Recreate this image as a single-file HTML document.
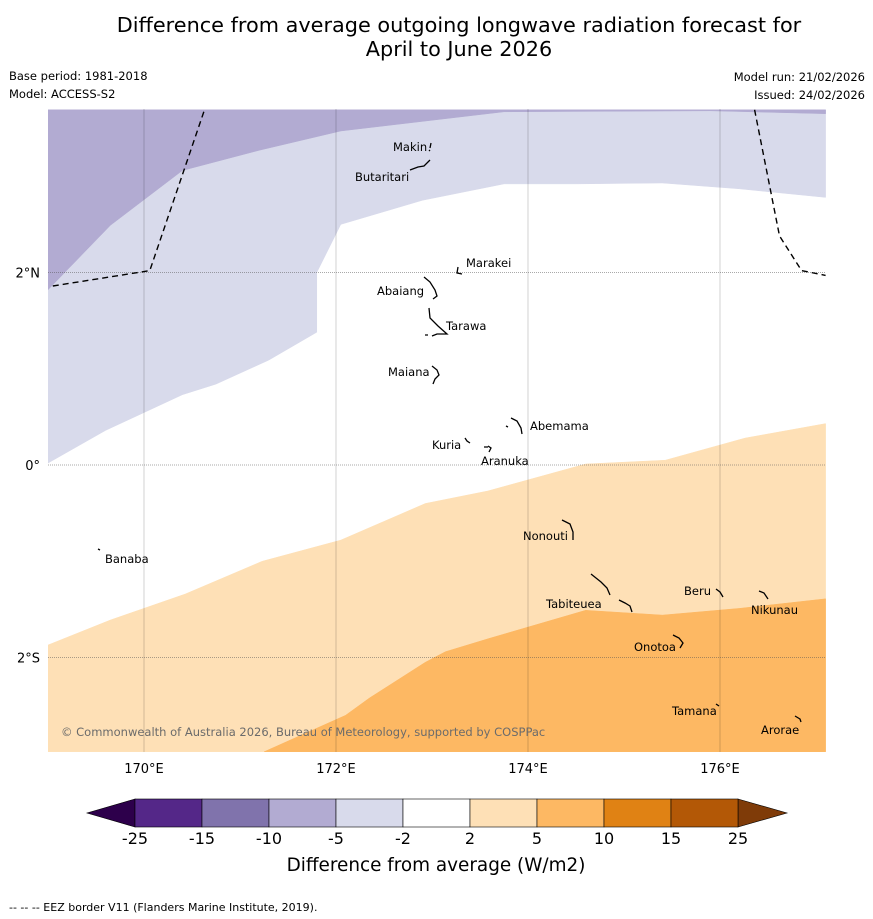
<!DOCTYPE html>
<html><head><meta charset="utf-8"><style>
body{margin:0;background:#fff;font-family:"DejaVu Sans","Liberation Sans",sans-serif}
svg{display:block}
</style></head><body>
<svg width="873" height="919" xmlns="http://www.w3.org/2000/svg">
<text x="459" y="32" text-anchor="middle" font-size="20.8">Difference from average outgoing longwave radiation forecast for</text>
<text x="459" y="56" text-anchor="middle" font-size="20.8">April to June 2026</text>
<text x="9" y="80" font-size="11.5">Base period: 1981-2018</text>
<text x="9" y="98" font-size="11.5">Model: ACCESS-S2</text>
<text x="865" y="81" font-size="11.5" text-anchor="end">Model run: 21/02/2026</text>
<text x="865" y="99" font-size="11.5" text-anchor="end">Issued: 24/02/2026</text>
<g id="map"></g>
<g id="cbar"></g>
<text x="436" y="871" text-anchor="middle" font-size="18.4">Difference from average (W/m2)</text>
<text x="9" y="911" font-size="11">--  --  -- EEZ border V11 (Flanders Marine Institute, 2019).</text>
</svg>
<script>
const lonTicks=[170,172,174,176];
const latTicks=[2,0,-2];
const latLabels=["2°N","0°","2°S"];
const lightPurple=[[169,3.69],[177.1,3.69],[177.1,2.78],[176.2,2.87],[175.4,2.93],[174.5,2.92],[173.75,2.92],[172.9,2.75],[172.05,2.5],[171.8,2.0],[171.8,1.38],[171.3,1.09],[170.75,0.84],[170.4,0.73],[169.6,0.36],[169,0.02]];
const darkPurple=[[169,3.69],[177.1,3.69],[177.1,3.65],[175.9,3.68],[173.75,3.67],[172.05,3.47],[171.2,3.27],[170.4,3.06],[169.65,2.49],[169,1.82]];
const lightOrange=[[169,-1.87],[169.65,-1.61],[170.43,-1.34],[171.23,-1.0],[172.05,-0.78],[172.93,-0.4],[173.58,-0.27],[174.6,0.01],[175.43,0.05],[176.26,0.28],[177.1,0.43],[177.1,-2.98],[169,-2.98]];
const darkOrange=[[171.25,-2.98],[172.1,-2.6],[172.35,-2.42],[172.93,-2.05],[173.14,-1.94],[173.6,-1.8],[174.6,-1.51],[175.4,-1.56],[176.2,-1.49],[177.1,-1.39],[177.1,-2.98]];
const eezLeft=[[169.05,1.86],[170.06,2.02],[170.63,3.69]];
const eezRight=[[176.36,3.69],[176.62,2.38],[176.85,2.02],[177.1,1.97]];
const islandNames=["Makin","Butaritari","Marakei","Abaiang","Tarawa","Maiana","Abemama","Kuria","Aranuka","Banaba","Nonouti","Tabiteuea","Beru","Nikunau","Onotoa","Tamana","Arorae"];
const islandShapes=["M431,143 l-1,5 M429,150 l1,1","M410,170 l8,-3 l6,-1 l6,-6","M458,267 l-1,6 l5,1","M424,277 l6,5 l5,8 l2,6 l-4,3","M429,308 l1,10 l8,8 l9,8 l-10,0 l-5,2 M425,335 l3,0","M432,366 l5,4 l2,5 l-4,4 l-2,5","M511,418 l6,3 l4,7 l1,6 M506,426 l2,1","M465,438 l2,3 l3,2","M484,447 l4,0 M488,446 l3,2 l-2,4","M98,549 l2,1","M562,520 l8,4 l3,8 l0,8","M591,574 l5,4 l5,4 l6,6 l3,7 M619,600 l6,3 l5,3 l2,6","M716,589 l4,3 l3,5","M759,591 l5,2 l4,6","M673,635 l6,3 l4,5 l-3,5","M716,704 l3,2","M795,716 l5,3 l1,3"];
const labelX=[393,355,466,377,446,388,530,432,481,105,523,546,684,751,634,672,761];
const labelY=[151,181,267,295,330,376,430,449,465,563,540,608,595,614,651,715,734];
const cbarBounds=[-25,-15,-10,-5,-2,2,5,10,15,25];
const cbarColors=["#542788","#8073ac","#b2abd2","#d8daeb","#ffffff","#fee0b6","#fdb863","#e08214","#b35806"];
const NS="http://www.w3.org/2000/svg";
const X0=48,X1=826,Y0=109,Y1=752;
const px=l=>144+(l-170)*96;
const py=l=>465-l*96.25;
const map=document.getElementById('map');
function mk(t,a,p){const e=document.createElementNS(NS,t);for(const k in a)e.setAttribute(k,a[k]);(p||map).appendChild(e);return e;}
const clip=mk('clipPath',{id:'mc'});mk('rect',{x:X0,y:Y0,width:X1-X0,height:Y1-Y0},clip);
const g=mk('g',{'clip-path':'url(#mc)'});


const pts=a=>a.map(p=>px(p[0]).toFixed(1)+','+py(p[1]).toFixed(1)).join(' ');
[[lightPurple,'#d8daeb','region-minus5-to-minus2'],[darkPurple,'#b2abd2','region-minus10-to-minus5'],[lightOrange,'#fee0b6','region-2-to-5'],[darkOrange,'#fdb863','region-5-to-10']].forEach(([d,c,n])=>{
 const p=mk('polygon',{points:pts(d),fill:c,stroke:c,'stroke-width':0.5},g);
 
 
});
lonTicks.forEach(l=>{
 const ln=mk('line',{x1:px(l),x2:px(l),y1:Y0,y2:Y1,stroke:'#000','stroke-opacity':0.25,'stroke-width':0.7},g);
 
 
 const t=mk('text',{x:px(l),y:Y1+21,'text-anchor':'middle','font-size':13});t.textContent=l+'°E';
 
 
});
latTicks.forEach((l,i)=>{
 const ln=mk('line',{x1:X0,x2:X1,y1:py(l),y2:py(l),stroke:'#555','stroke-width':0.6,'stroke-dasharray':'1,1'},g);
 
 
 const t=mk('text',{x:40,y:py(l)+5,'text-anchor':'end','font-size':13});t.textContent=latLabels[i];
 
 
});
[eezLeft,eezRight].forEach(d=>{
 const p=mk('polyline',{points:pts(d),fill:'none',stroke:'#000','stroke-width':1.4,'stroke-dasharray':'6,4'},g);
 
 
});
islandNames.forEach((n,i)=>{
 const s=mk('path',{d:islandShapes[i],fill:'none',stroke:'#000','stroke-width':1.3},g);
 
 
 const t=mk('text',{x:labelX[i],y:labelY[i],'font-size':11.5},g);t.textContent=n;
 
 
});
const cp=mk('text',{x:61,y:736,'font-size':11.5,fill:'#6b6b6b'},g);cp.textContent='© Commonwealth of Australia 2026, Bureau of Meteorology, supported by COSPPac';


const cb=document.getElementById('cbar');
const CX0=135,CX1=738,CY0=799,CY1=827,n=cbarColors.length,w=(CX1-CX0)/n;
const lt=mk('polygon',{points:`${CX0},${CY0} 87,813 ${CX0},${CY1}`,fill:'#2d004b',stroke:'#000','stroke-width':0.6},cb);


const rt=mk('polygon',{points:`${CX1},${CY0} 787,813 ${CX1},${CY1}`,fill:'#7f3b08',stroke:'#000','stroke-width':0.6},cb);


cbarColors.forEach((c,i)=>{
 const r=mk('rect',{x:CX0+i*w,y:CY0,width:w,height:CY1-CY0,fill:c,stroke:'#000','stroke-width':0.6},cb);
 
 
});
cbarBounds.forEach((b,i)=>{
 const t=mk('text',{x:CX0+i*w,y:844,'text-anchor':'middle','font-size':16},cb);t.textContent=b;
 
 
});
</script>
</body></html>
